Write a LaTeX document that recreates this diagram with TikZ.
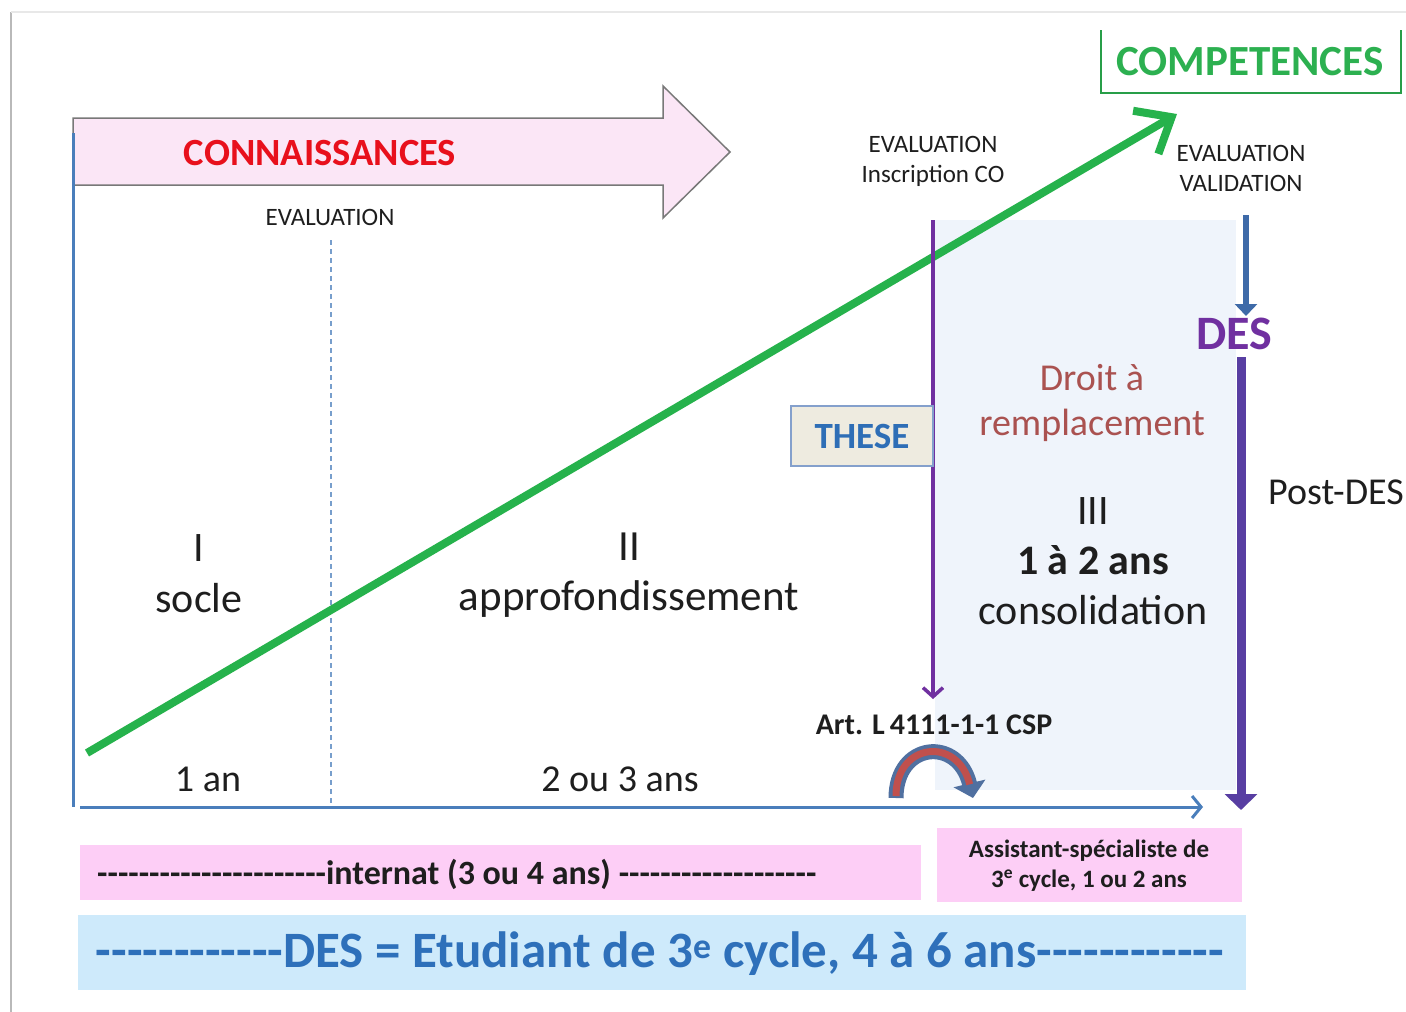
\documentclass[tikz,border=0pt]{standalone}
\usepackage{fontspec}
\setmainfont{Carlito}[Ligatures=TeXOff]
\usetikzlibrary{arrows.meta}
\definecolor{axisblue}{RGB}{74,126,187}
\definecolor{arrowgreen}{RGB}{38,178,76}
\definecolor{compgreen}{RGB}{44,176,80}
\definecolor{connred}{RGB}{232,16,28}
\definecolor{pinkarrow}{RGB}{251,230,246}
\definecolor{arrowgray}{RGB}{120,120,120}
\definecolor{shadeblue}{RGB}{239,244,251}
\definecolor{thesepurple}{RGB}{112,48,160}
\definecolor{thesefill}{RGB}{238,235,224}
\definecolor{theseborder}{RGB}{132,160,204}
\definecolor{thesetext}{RGB}{46,110,182}
\definecolor{droitred}{RGB}{170,82,80}
\definecolor{desblue}{RGB}{62,106,168}
\definecolor{desmix}{RGB}{88,62,162}
\definecolor{barpink}{RGB}{253,206,246}
\definecolor{barblue}{RGB}{206,234,251}
\definecolor{bartext}{RGB}{46,112,186}
\definecolor{darktext}{RGB}{30,30,30}
\definecolor{curvered}{RGB}{192,80,77}
\definecolor{curveblue}{RGB}{80,112,160}
\begin{document}
\begin{tikzpicture}[x=1pt,y=-1pt,
  txt/.style={inner sep=0pt, align=center, text=darktext},
  small/.style={txt, font=\fontsize{25}{30}\selectfont},
  mid/.style={txt, font=\fontsize{38}{45}\selectfont},
  big/.style={txt, font=\fontsize{42}{50}\selectfont}
]
\useasboundingbox (0,0) rectangle (1406,1012);
\fill[white] (0,0) rectangle (1406,1012);
% slide frame
\draw[gray!55, line width=2] (11,12) -- (11,1012);
\draw[gray!18, line width=1.5] (11,12) -- (1406,12);

% shaded zone III
\fill[shadeblue] (935,220) rectangle (1236,790);

% CONNAISSANCES arrow
\draw[draw=arrowgray, fill=pinkarrow, line width=1.5, line join=miter]
  (73,118) -- (663,118) -- (663,86) -- (730,152) -- (663,218) -- (663,185) -- (73,185) -- cycle;
\node[txt, font=\bfseries\fontsize{38.5}{44}\selectfont, text=connred] (conn) at (320,153) {CONNAISSANCES};

% first evaluation
\node[small] (eval1) at (330,217) {EVALUATION};
\coordinate (d1) at (331,240);
\coordinate (d2) at (331,805);
\draw[axisblue!75, line width=1.2, dash pattern=on 5pt off 4pt] (d1) -- (d2);

% axes
\coordinate (vtop) at (73,133);
\coordinate (vbot) at (73,807);
\draw[axisblue, line width=3] (vtop) -- (vbot);
\coordinate (hs) at (80,807);
\coordinate (he) at (1203,807);
\draw[axisblue, line width=3, -{Straight Barb[length=9pt,width=22pt]}] (hs) -- (he);

% COMPETENCES box
\node[txt, font=\bfseries\fontsize{43}{48}\selectfont, text=compgreen] (comp) at (1250,62) {COMPETENCES};
\draw[compgreen!90!black, line width=1.8] (1101,30) -- (1101,93) -- (1401,93) -- (1401,30);

% green progression arrow
\coordinate (gs) at (87,753);
\coordinate (ge) at (1177,114);
\draw[arrowgreen, line width=8, -{Straight Barb[length=30pt,width=50pt]}] (gs) -- (ge);

% second evaluation
\node[small] (eval2) at (933,161) {EVALUATION\\Inscription CO};
\coordinate (ps) at (933,220);
\coordinate (pe) at (933,699);
\draw[thesepurple, line width=3.5, -{Straight Barb[length=9pt,width=20pt]}] (ps) -- (pe);

% THESE
\node[draw=theseborder, fill=thesefill, line width=1.2, minimum width=142pt, minimum height=60pt,
      inner sep=0pt, font=\bfseries\fontsize{37}{42}\selectfont, text=thesetext] (these) at (862,436) {THESE};

% third evaluation and DES
\node[small] (eval3) at (1241,168) {EVALUATION\\VALIDATION};
\node[txt, font=\bfseries\fontsize{48}{54}\selectfont, text=thesepurple] (des) at (1234,334) {DES};
\coordinate (u1) at (1246,215);
\coordinate (u2) at (1246,316);
\draw[desblue, line width=6, -{Triangle[length=12pt,width=22pt]}] (u1) -- (u2);
\coordinate (l1) at (1241,357);
\coordinate (l2) at (1241,810);
\draw[desmix, line width=9, -{Triangle[length=16pt,width=32pt]}] (l1) -- (l2);
\node[mid] (post) at (1336,492) {Post-DES};

% phase texts
\node[txt, font=\fontsize{38}{45}\selectfont, text=droitred] (droit) at (1092,403) {Droit à\\remplacement};
\node[big] (p3) at (1093,561) {III\\\textbf{1 à 2 ans}\\consolidation};
\node[txt, font=\fontsize{42}{51}\selectfont] (p1) at (199,574) {I\\socle};
\node[txt, font=\fontsize{43}{50}\selectfont] (p2) at (629,575) {II\\approfondissement};
\node[mid] (y1) at (208,779) {1 an};
\node[mid] (y2) at (620,779) {2 ou 3 ans};

% Art. L 4111-1-1 CSP and curved arrow
\node[txt, font=\bfseries\fontsize{30}{34}\selectfont] (art) at (934,725) {Art. L\,4111-1-1 CSP};
\coordinate (c1) at (896,798);
\coordinate (c2) at (973,798);
\draw[curveblue, line width=15, -{Triangle[length=15pt,width=32pt]}]
  (c1) .. controls (896,742) and (958,736) .. (c2);
\draw[curvered, line width=7, shorten >=14pt]
  (896,796) .. controls (896,742) and (958,736) .. (c2);

% bottom bars
\fill[barpink] (80,845) rectangle (921,900);
\node[txt, anchor=west, font=\bfseries\fontsize{34}{38}\selectfont] (intern) at (97,874)
  {----------------------internat (3 ou 4 ans) -------------------};
\fill[barpink] (937,828) rectangle (1242,902);
\node[txt, font=\bfseries\fontsize{25}{30}\selectfont] (assist) at (1089,866)
  {Assistant-spécialiste de\\3\textsuperscript{e} cycle, 1 ou 2 ans};
\fill[barblue] (78,915) rectangle (1246,990);
\node[txt, font=\bfseries\fontsize{51}{56}\selectfont, text=bartext] (desbar) at (660,954)
  {------------DES = Etudiant de 3\textsuperscript{e} cycle, 4 à 6 ans------------};
\end{tikzpicture}
\end{document}
